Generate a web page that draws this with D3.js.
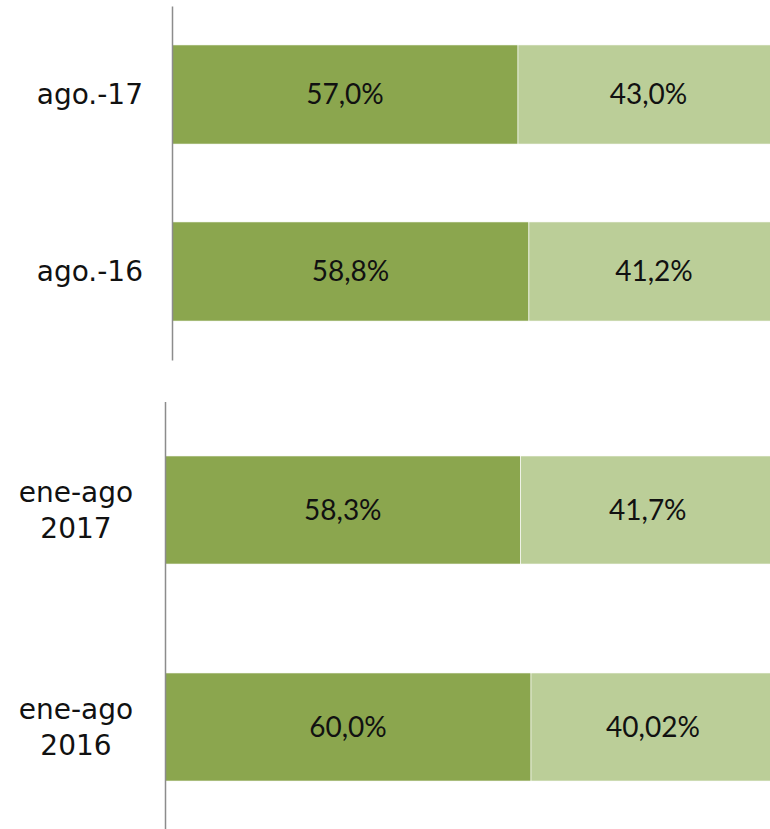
<!DOCTYPE html>
<html><head><meta charset="utf-8">
<script src="https://cdn.jsdelivr.net/npm/d3@7"></script>
<style>body{margin:0;background:#fff;}svg{display:block;}</style>
</head><body>
<script>
const monthCats = ["ago.-17", "ago.-16"];
const monthShareA = [57.0, 58.8];
const monthShareB = [43.0, 41.2];
const monthLabelsA = ["57,0%", "58,8%"];
const monthLabelsB = ["43,0%", "41,2%"];

const ytdCats = ["ene-ago 2017", "ene-ago 2016"];
const ytdShareA = [58.3, 60.0];
const ytdShareB = [41.7, 40.0];
const ytdLabelsA = ["58,3%", "60,0%"];
const ytdLabelsB = ["41,7%", "40,02%"];

const W = 770, H = 829;
const colorA = "#8BA64E", colorB = "#BBCE98";
const valFont = "Lato, 'Open Sans', sans-serif";
const catFont = "'DejaVu Sans', sans-serif";
const fs = 28;

const svg = d3.select("body").append("svg").attr("width", W).attr("height", H);

function panel(cats, a, b, la, lb, axisX, width, y0, y1, padIn, padOut, multiline) {
  const x = d3.scaleLinear().domain([0, 100]).range([axisX, axisX + width]);
  const y = d3.scaleBand().domain(cats).range([y0, y1]).paddingInner(padIn).paddingOuter(padOut);
  const g = svg.append("g");
  const rows = cats.map((c, i) => ({c, a: a[i], b: b[i], la: la[i], lb: lb[i]}));
  const row = g.selectAll("g.row").data(rows).join("g").attr("class", "row");
  row.append("rect").attr("x", x(0)).attr("y", d => y(d.c)).attr("width", d => x(d.a) - x(0))
    .attr("height", y.bandwidth()).attr("fill", colorA).attr("stroke", "#fff").attr("stroke-width", 0.6);
  row.append("rect").attr("x", d => x(d.a)).attr("y", d => y(d.c)).attr("width", d => x(d.a + d.b) - x(d.a))
    .attr("height", y.bandwidth()).attr("fill", colorB).attr("stroke", "#fff").attr("stroke-width", 0.6);
  row.append("text").attr("x", d => (x(0) + x(d.a)) / 2).attr("y", d => y(d.c) + y.bandwidth() / 2)
    .attr("dy", "0.35em").attr("text-anchor", "middle").attr("font-family", valFont).attr("font-size", fs)
    .attr("fill", "#111").text(d => d.la);
  row.append("text").attr("x", d => (x(d.a) + x(d.a + d.b)) / 2).attr("y", d => y(d.c) + y.bandwidth() / 2)
    .attr("dy", "0.35em").attr("text-anchor", "middle").attr("font-family", valFont).attr("font-size", fs)
    .attr("fill", "#111").text(d => d.lb);
  const ax = d3.axisLeft(y).tickSize(0).tickPadding(0);
  const axG = g.append("g").attr("transform", `translate(${axisX},0)`).call(ax);
  axG.select(".domain").attr("stroke", "#8c8c8c").attr("stroke-width", 1.5);
  axG.selectAll(".tick text").remove();
  row.each(function(d) {
    const cy = y(d.c) + y.bandwidth() / 2;
    if (multiline) {
      const parts = d.c.split(" ");
      const t = d3.select(this).append("text").attr("text-anchor", "middle")
        .attr("font-family", catFont).attr("font-size", fs).attr("fill", "#111");
      parts.forEach((p, k) => {
        t.append("tspan").attr("x", 76).attr("y", cy + (k - (parts.length - 1) / 2) * 36).attr("dy", "0.35em").text(p);
      });
    } else {
      d3.select(this).append("text").attr("x", axisX - 29).attr("y", cy).attr("dy", "0.35em")
        .attr("text-anchor", "end").attr("font-family", catFont).attr("font-size", fs).attr("fill", "#111").text(d.c);
    }
  });
}

panel(monthCats, monthShareA, monthShareB, monthLabelsA, monthLabelsB, 172, 607, 6, 360, 0.44, 0.22, false);
panel(ytdCats, ytdShareA, ytdShareB, ytdLabelsA, ytdLabelsB, 165, 610, 401.5, 835.5, 0.502, 0.251, true);
</script>
</body></html>
